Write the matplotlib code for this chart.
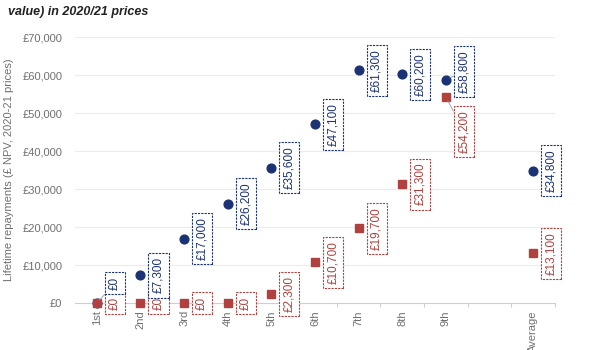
import matplotlib
matplotlib.use("Agg")
import matplotlib.pyplot as plt
import numpy as np

categories = ["1st", "2nd", "3rd", "4th", "5th", "6th", "7th", "8th", "9th", "Average"]
positions = [0, 1, 2, 3, 4, 5, 6, 7, 8, 10]
blue_vals = [0, 7300, 17000, 26200, 35600, 47100, 61300, 60200, 58800, 34800]
red_vals = [0, 0, 0, 0, 2300, 10700, 19700, 31300, 54200, 13100]
yticks = [0, 10000, 20000, 30000, 40000, 50000, 60000, 70000]

BLUE = "#1b3275"
RED = "#b0413e"
GRAY = "#707070"

plt.rcParams['font.family'] = ['Liberation Sans', 'DejaVu Sans']

fig = plt.figure(figsize=(6, 3.5), dpi=100)
ax = fig.add_axes([0.125, 0.134, 0.8, 0.76])

ax.set_xlim(-0.5, 10.5)
ax.set_ylim(0, 70000)

for y in yticks[1:]:
    ax.axhline(y, color="#ececec", lw=0.8, zorder=0)

ax.plot(positions, blue_vals, 'o', color=BLUE, ms=6.3, clip_on=False, zorder=3)
ax.plot(positions, red_vals, 's', color=RED, ms=6, clip_on=False, zorder=3)

# label vertical offsets (pixels) for crowded spots
blue_dy = {0: 20, 8: 8}
red_dy = {8: -34}

def label(x, y, val, color, dy, lead):
    ax.annotate(
        "£{:,}".format(val), xy=(x, y), xytext=(18, dy), textcoords="offset pixels",
        rotation=90, ha="center", va="center", fontsize=8.5, color=color,
        bbox=dict(boxstyle="square,pad=0.35", fc="white", ec=color, lw=0.8, ls=(0, (2, 1))),
        arrowprops=(dict(arrowstyle="-", color="#999999", lw=0.6, shrinkA=0, shrinkB=3) if lead else None),
        zorder=4, annotation_clip=False)

for i, (x, v) in enumerate(zip(positions, red_vals)):
    d = red_dy.get(i, 0)
    label(x, v, v, RED, d, d != 0)
for i, (x, v) in enumerate(zip(positions, blue_vals)):
    d = blue_dy.get(i, 0)
    label(x, v, v, BLUE, d, d != 0)

for s in ["top", "right", "left"]:
    ax.spines[s].set_visible(False)
ax.spines["bottom"].set_color("#cfcfcf")
ax.spines["bottom"].set_linewidth(0.8)

ax.set_yticks(yticks)
ax.set_yticklabels(["£{:,}".format(v) for v in yticks])
ax.tick_params(axis="y", length=0, pad=9, labelsize=8, labelcolor=GRAY)

ax.set_xticks(positions)
ax.set_xticklabels(categories, rotation=90, va="top", ha="center")
ax.tick_params(axis="x", which="major", length=0, pad=5, labelsize=8, labelcolor=GRAY)
ax.set_xticks(np.arange(0.5, 11, 1.0), minor=True)
ax.tick_params(axis="x", which="minor", length=3, color="#cfcfcf", width=0.8)

ax.set_ylabel("Lifetime repayments (£ NPV, 2020-21 prices)", fontsize=8, color=GRAY, labelpad=6)

fig.text(0.013, 0.965, "value) in 2020/21 prices", fontsize=9, fontweight="bold",
         fontstyle="italic", color="#222222", ha="left", va="center")

fig.savefig("out.png", dpi=100)
